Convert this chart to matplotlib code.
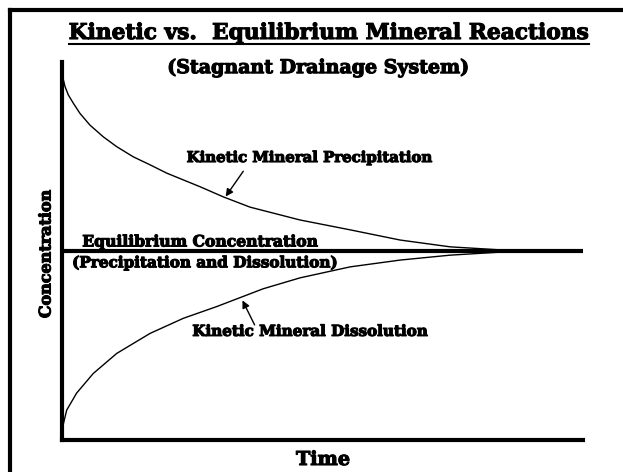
import matplotlib
matplotlib.use("Agg")
import matplotlib.pyplot as plt
import matplotlib.patheffects as pe
from matplotlib.lines import Line2D

# ---- data ----
precip_time = [0, 0.58, 1.21, 2.17, 3.45, 5.37, 7.93, 10.5, 13.7, 16.9, 20.1, 23.3, 26.5,
               31.0, 36.1, 45.7, 55.3, 64.9, 74.5, 84.1, 87.9, 100]
precip_conc = [96.8, 93.5, 91.3, 89.1, 86.4, 83.3, 80.2, 77.6, 74.9, 72.8, 70.6, 68.8, 67.0,
               64.3, 61.6, 58.2, 55.6, 52.9, 51.1, 50.3, 50.0, 50.0]
dissol_time = [0, 0.13, 0.9, 2.8, 6.0, 10.5, 16.9, 23.3, 29.7, 38.6, 45.7, 55.3,
               64.9, 74.5, 84.1, 91.7, 100]
dissol_conc = [1.6, 3.5, 7.9, 12.4, 17.6, 22.9, 28.2, 32.2, 35.3, 40.0, 42.9, 45.8,
               47.6, 48.9, 49.7, 50.0, 50.0]
equil_time = [0, 100]
equil_conc = [50, 50]

title = "Kinetic vs.  Equilibrium Mineral Reactions"
subtitle = "(Stagnant Drainage System)"
xlabel = "Time"
ylabel = "Concentration"
lbl_precip = "Kinetic Mineral Precipitation"
lbl_equil1 = "Equilibrium Concentration"
lbl_equil2 = "(Precipitation and Dissolution)"
lbl_dissol = "Kinetic Mineral Dissolution"

plt.rcParams['font.family'] = ['DejaVu Serif']
plt.rcParams['font.weight'] = 'bold'

W, H = 623, 472
fig = plt.figure(figsize=(W/100, H/100), dpi=100)
ax = fig.add_axes([62/W, 1-440/H, (583-62)/W, (440-62)/H])

thick = [pe.withStroke(linewidth=0.8, foreground='black')]

ax.plot(precip_time, precip_conc, color='black', lw=1.0)
ax.plot(dissol_time, dissol_conc, color='black', lw=1.0)
ax.plot(equil_time, equil_conc, color='black', lw=3.0, solid_capstyle='butt')

ax.set_xlim(0, 100)
ax.set_ylim(0, 100)
ax.set_xticks([])
ax.set_yticks([])
for s in ['top', 'right']:
    ax.spines[s].set_visible(False)
for s in ['left', 'bottom']:
    ax.spines[s].set_linewidth(3)
ax.patch.set_alpha(0)

ax.set_xlabel(xlabel, fontsize=11, fontweight='bold', path_effects=thick)
ax.set_ylabel(ylabel, fontsize=11, fontweight='bold', path_effects=thick)
ax.xaxis.label.set_va('center')
ax.yaxis.label.set_va('center')
ax.xaxis.set_label_coords((323-62)/521, (440-460)/378)
ax.yaxis.set_label_coords((46-62)/521, (440-254)/378)

t1 = ax.text(47.6, 74.6, lbl_precip, ha='center', va='center', fontsize=10, path_effects=thick)
t2 = ax.text(26.5, 52.4, lbl_equil1, ha='center', va='center', fontsize=10, path_effects=thick)
t3 = ax.text(27.4, 46.8, lbl_equil2, ha='center', va='center', fontsize=10, path_effects=thick)
t4 = ax.text(47.6, 28.6, lbl_dissol, ha='center', va='center', fontsize=10, path_effects=thick)
ax.annotate("", xy=(31.1, 63.8), xytext=(35.1, 71.7),
            arrowprops=dict(arrowstyle='-|>', color='black', lw=1.0, mutation_scale=11))
ax.annotate("", xy=(34.4, 37.6), xytext=(37.2, 29.8),
            arrowprops=dict(arrowstyle='-|>', color='black', lw=1.0, mutation_scale=11))

tt = fig.text(329/W, 1-33/H, title, ha='center', va='center', fontsize=15, path_effects=thick)
ts = fig.text(318/W, 1-68/H, subtitle, ha='center', va='center', fontsize=12, path_effects=thick)

# fit the font sizes to the widths seen in the reference
fig.canvas.draw()
r = fig.canvas.get_renderer()
for art, target in [(t1, 246), (t2, 236), (t3, 266), (t4, 236), (tt, 522), (ts, 301),
                    (ax.xaxis.label, 54)]:
    w = art.get_window_extent(r).width
    art.set_fontsize(art.get_fontsize() * target / w)
h = ax.yaxis.label.get_window_extent(r).height
ax.yaxis.label.set_fontsize(ax.yaxis.label.get_fontsize() * 128 / h)

# frame lines (top and left)
fig.add_artist(Line2D([10/W, 1.0], [1-10/H, 1-10/H], color='black', lw=3))
fig.add_artist(Line2D([10/W, 10/W], [1-10/H, 0.0], color='black', lw=3))

# underline for the title
fig.canvas.draw()
bb = tt.get_window_extent(fig.canvas.get_renderer())
y_ul = 1 - 44/H
fig.add_artist(Line2D([bb.x0 / W, bb.x1 / W], [y_ul, y_ul], color='black', lw=1.5))

fig.savefig("out.png", dpi=100)
